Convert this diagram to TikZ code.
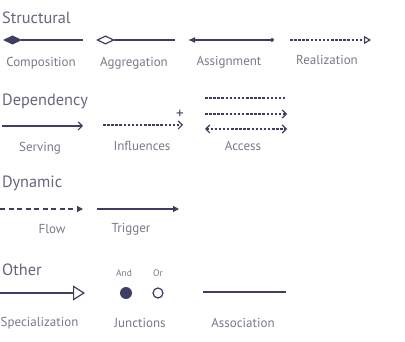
\documentclass[tikz,border=0pt]{standalone}
\usepackage{fontspec}
\setmainfont{PT Sans}
\usetikzlibrary{arrows.meta}
\definecolor{linec}{HTML}{3E3E64}
\definecolor{headc}{HTML}{66667E}
\definecolor{labc}{HTML}{7A7A8A}
\begin{document}
\begin{tikzpicture}[x=1pt,y=-1pt,
  head/.style={anchor=west,text=headc,font=\fontsize{16.3}{18}\selectfont,inner sep=0pt},
  lab/.style={text=labc,font=\fontsize{13}{14}\selectfont,inner sep=0pt},
  conn/.style={draw=linec,line width=1.2pt},
  dots/.style={conn,dash pattern=on 2.5pt off 1.6pt},
  dash2/.style={conn,dash pattern=on 5pt off 3.5pt}]
\useasboundingbox (0,0) rectangle (405,342);
\fill[white] (0,0) rectangle (405,342);
% headings
\node[head] (hs) at (2,18) {Structural};
\node[head] (hd) at (2,101) {Dependency};
\node[head] (hy) at (2,183) {Dynamic};
\node[head] (ho) at (2,270) {Other};
% row 1
\coordinate (c1) at (3,40); \coordinate (c2) at (83,40);
\draw[conn,{Diamond[length=19pt,width=9pt]}-] (c1) -- (c2);
\node[lab] (lc) at (41,63) {Composition};
\coordinate (a1) at (96,40); \coordinate (a2) at (175,40);
\draw[conn,{Diamond[open,length=19pt,width=9pt]}-] (a1) -- (a2);
\node[lab] (la) at (134,63) {Aggregation};
\coordinate (s1) at (188,40); \coordinate (s2) at (274,40);
\draw[conn,{Latex[length=7pt,width=6pt]}-{Circle[length=4pt]}] (s1) -- (s2);
\node[lab] (ls) at (229,62) {Assignment};
\coordinate (r1) at (290,40); \coordinate (r2) at (371,40);
\draw[dots,-{Triangle[open,length=7pt,width=8pt]}] (r1) -- (r2);
\node[lab] (lr) at (327,60) {Realization};
% row 2
\coordinate (v1) at (2,126); \coordinate (v2) at (83,126);
\draw[conn,-{Straight Barb[length=4pt,width=8pt]}] (v1) -- (v2);
\node[lab] (lv) at (40,148) {Serving};
\coordinate (i1) at (103,125); \coordinate (i2) at (183,125);
\draw[dots,-{Straight Barb[length=4pt,width=8pt]}] (i1) -- (i2);
\node[text=linec,font=\fontsize{15}{16}\selectfont,inner sep=0pt] (plus) at (180,114) {+};
\node[lab] (li) at (142,146) {Influences};
\coordinate (x1) at (205,98); \coordinate (x2) at (286,98);
\draw[dots] (x1) -- (x2);
\coordinate (y1) at (205,114); \coordinate (y2) at (287,114);
\draw[dots,-{Straight Barb[length=4pt,width=8pt]}] (y1) -- (y2);
\coordinate (z1) at (205,129); \coordinate (z2) at (287,129);
\draw[dots,{Straight Barb[length=4pt,width=8pt]}-{Straight Barb[length=4pt,width=8pt]}] (z1) -- (z2);
\node[lab] (lx) at (243,146) {Access};
% row 3
\coordinate (f1) at (0,209); \coordinate (f2) at (83,209);
\draw[dash2,-{Triangle[length=6pt,width=6pt]}] (f1) -- (f2);
\node[lab] (lf) at (52,229) {Flow};
\coordinate (t1) at (97,209); \coordinate (t2) at (179,209);
\draw[conn,-{Triangle[length=6pt,width=6pt]}] (t1) -- (t2);
\node[lab] (lt) at (131,229) {Trigger};
% row 4
\coordinate (p1) at (0,293); \coordinate (p2) at (85,293);
\draw[conn,-{Triangle[open,length=12pt,width=15pt]}] (p1) -- (p2);
\node[lab] (lp) at (39.5,323) {Specialization};
\node[circle,fill=linec,minimum size=12pt,inner sep=0pt] (and) at (126,293) {};
\node[circle,draw=linec,line width=1.2pt,minimum size=10pt,inner sep=0pt] (or) at (158,293) {};
\node[lab,font=\fontsize{9.5}{10}\selectfont] (land) at (124,273) {And};
\node[lab,font=\fontsize{9.5}{10}\selectfont] (lor) at (158,273) {Or};
\node[lab] (lj) at (140,323) {Junctions};
\coordinate (s3) at (203,292); \coordinate (s4) at (286,292);
\draw[conn] (s3) -- (s4);
\node[lab] (lassoc) at (243,323) {Association};
\end{tikzpicture}
\end{document}
